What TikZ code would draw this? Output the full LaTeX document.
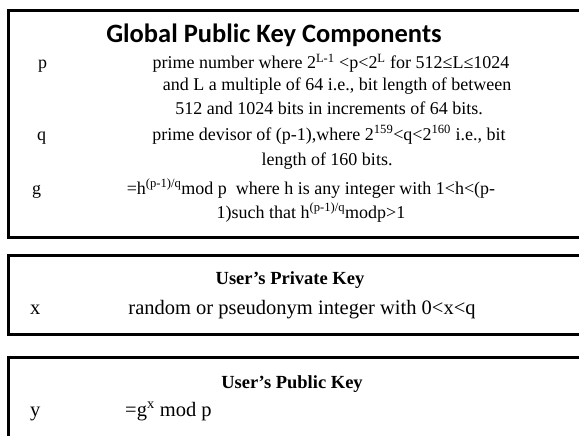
\documentclass[tikz,border=0pt]{standalone}
\usepackage{fontspec}
\setmainfont{Liberation Serif}
\newfontfamily\titlefont{Carlito}
\begin{document}
\begin{tikzpicture}[x=1pt,y=-1pt,
  frame/.style={line width=3pt,line cap=rect},
  body/.style={inner sep=0pt,anchor=base,font=\fontsize{18}{22}\selectfont},
  bodyb/.style={inner sep=0pt,anchor=base,font=\fontsize{20.5}{24}\selectfont},
  bodybl/.style={bodyb,anchor=base west},
  sym/.style={body,anchor=base west},
  symb/.style={bodyb,anchor=base west},
  gtitle/.style={inner sep=0pt,anchor=base,font=\titlefont\bfseries\fontsize{26.5}{30}\selectfont},
  utitle/.style={inner sep=0pt,anchor=base,font=\bfseries\fontsize{18.5}{22}\selectfont}]
\useasboundingbox (0,0) rectangle (579,436);
% frames
\draw[frame] (600,11) -- (8,11) -- (8,237) -- (600,237);
\draw[frame] (600,255) -- (8,255) -- (8,334) -- (600,334);
\draw[frame] (600,357) -- (8,357) -- (8,445);
% box 1
\node[gtitle] (t1) at (274,43) {Global Public Key Components};
\node[sym] (sp) at (38,69) {p};
\node[body] (p1) at (331,69) {prime number where 2\textsuperscript{L-1} <p<2\textsuperscript{L} for 512≤L≤1024};
\node[body] (p2) at (337,91) {and L a multiple of 64 i.e., bit length of between};
\node[body] (p3) at (329,114) {512 and 1024 bits in increments of 64 bits.};
\node[sym] (sq) at (37,140) {q};
\node[body] (q1) at (329,140) {prime devisor of (p-1),where 2\textsuperscript{159}<q<2\textsuperscript{160} i.e., bit};
\node[body] (q2) at (327,165) {length of 160 bits.};
\node[sym] (sg) at (32,194) {g};
\node[body] (g1) at (311,194) {=h\textsuperscript{(p-1)/q}mod p\ \ where h is any integer with 1<h<(p-};
\node[body] (g2) at (311,218) {1)such that h\textsuperscript{(p-1)/q}modp>1};
% box 2
\node[utitle] (t2) at (290,284) {User’s Private Key};
\node[symb] (sx) at (30,314) {x};
\node[bodyb] (x1) at (302,314) {random or pseudonym integer with 0<x<q};
% box 3
\node[utitle] (t3) at (292,388) {User’s Public Key};
\node[symb] (sy) at (30,416) {y};
\node[bodybl] (y1) at (125,416) {=g\textsuperscript{x} mod p};
\end{tikzpicture}
\end{document}
